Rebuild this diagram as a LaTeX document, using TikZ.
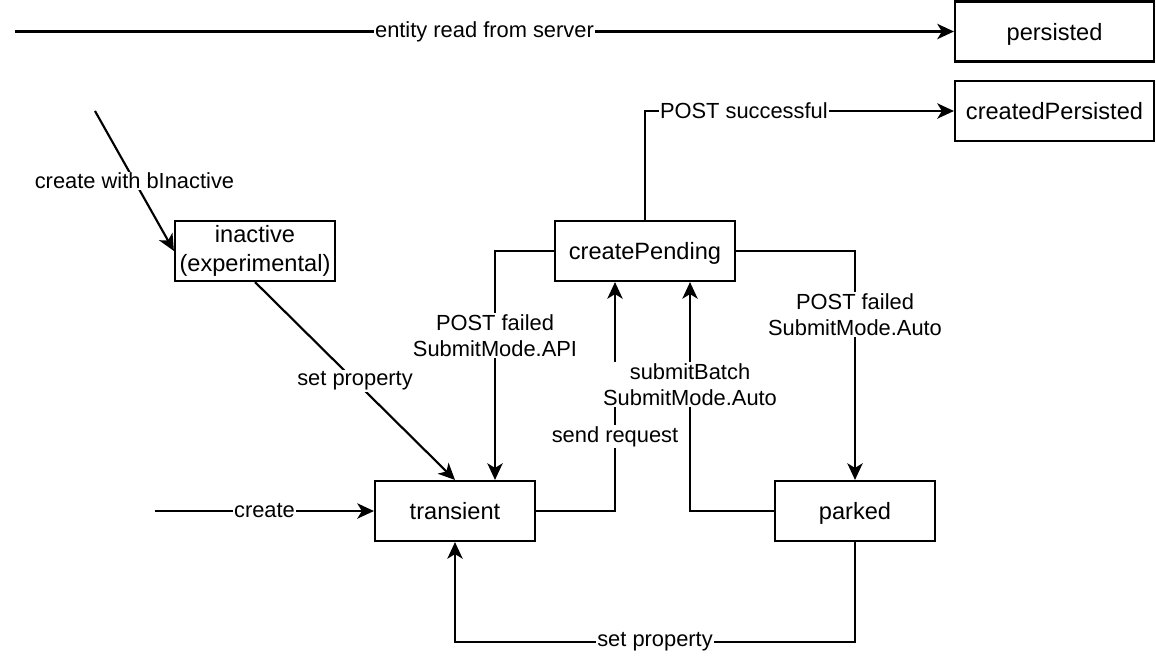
\documentclass[tikz,border=0pt]{standalone}
\usepackage{fontspec}
\setmainfont{Liberation Sans}
\usetikzlibrary{arrows.meta}

\tikzset{every picture/.style={line width=0.75pt}}
\tikzset{
  statebox/.style={draw, line width=1.6pt, minimum height=45pt, inner sep=0pt, align=center, font=\fontsize{17.7}{21.5}\selectfont},
  oneline/.style={text height=15pt, text depth=2.2pt},
  edgelabel/.style={fill=white, inner sep=1pt, align=center, font=\fontsize{16.4}{19.5}\selectfont},
  flow/.style={line width=1.6pt, -{Stealth[length=12.5pt,width=11.5pt,inset=3.5pt]}},
}

\begin{document}
\begin{tikzpicture}[x=0.75pt,y=0.75pt,yscale=-1,xscale=1]
        \useasboundingbox (0,0) rectangle (1156,658);

        %Shape: Rectangle [persisted]
        \node [statebox, oneline, minimum width=149.25pt] (persisted) at (1054.5,31.5) {persisted};
        %Shape: Rectangle [createdPersisted]
        \node [statebox, oneline, minimum width=149.25pt] (createdPersisted) at (1054.5,111) {createdPersisted};
        %Shape: Rectangle [inactive]
        \node [statebox, minimum width=120pt] (inactive) at (255,251) {inactive\\(experimental)};
        %Shape: Rectangle [createPending]
        \node [statebox, oneline, minimum width=135pt] (createPending) at (645,251) {createPending};
        %Shape: Rectangle [transient]
        \node [statebox, oneline, minimum width=120pt] (transient) at (455,511) {transient};
        %Shape: Rectangle [parked]
        \node [statebox, oneline, minimum width=120pt] (parked) at (855,511) {parked};

        %Free ends
        \coordinate (readstart) at (15,31.5);
        \coordinate (inactivestart) at (95,111);
        \coordinate (createstart) at (155,511);

        %Connection: entity read from server
        \draw [flow] (readstart) -- node [edgelabel] {entity read from server} (persisted);
        %Connection: POST successful
        \draw [flow] (createPending.north) |- node [edgelabel, pos=0.66] {POST successful} (createdPersisted.west);
        %Connection: create with bInactive
        \draw [flow] (inactivestart) -- node [edgelabel] {create with bInactive} (inactive.west);
        %Connection: set property (inactive)
        \draw [flow] (inactive.south) -- node [edgelabel] {set property} (transient.north);
        %Connection: create
        \draw [flow] (createstart) -- node [edgelabel] {create} (transient);
        %Connection: POST failed, API
        \draw [flow] (createPending.west) -| node [edgelabel, pos=0.685] {POST failed\\SubmitMode.API} ([xshift=30pt]transient.north);
        %Connection: send request
        \draw [flow] (transient.east) -| node [edgelabel, pos=0.663] {send request} ([xshift=-22.5pt]createPending.south);
        %Connection: submitBatch
        \draw [flow] (parked.west) -| node [edgelabel, pos=0.776] {submitBatch\\SubmitMode.Auto} ([xshift=33.75pt]createPending.south);
        %Connection: POST failed, Auto
        \draw [flow] (createPending.east) -| node [edgelabel, pos=0.639] {POST failed\\SubmitMode.Auto} (parked.north);
        %Connection: set property (parked)
        \draw [flow] (parked.south) -- ++(0,100) -| node [edgelabel, pos=0.25] {set property} (transient.south);
    \end{tikzpicture}
\end{document}
